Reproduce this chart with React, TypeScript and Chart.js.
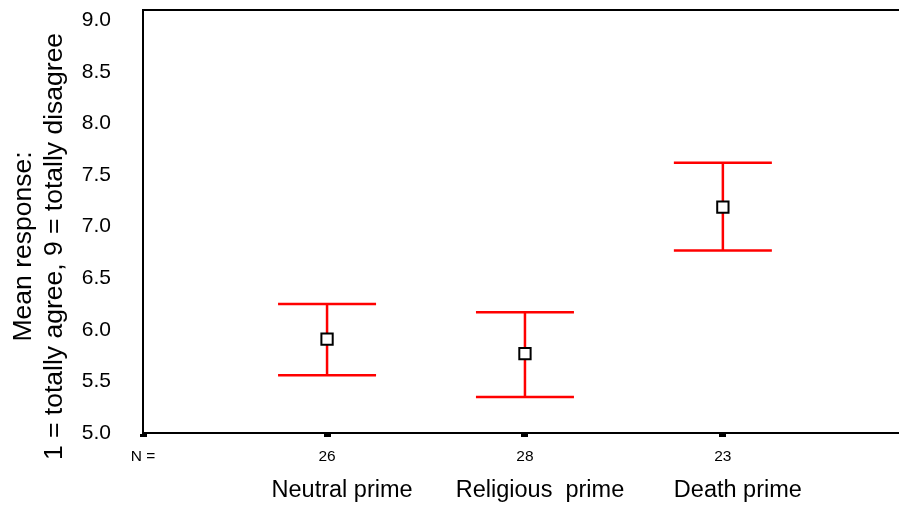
import React, { useEffect, useRef } from "react";
import { Chart, registerables } from "chart.js";

Chart.register(...registerables);

// ---- data ----
const categories = ["Neutral prime", "Religious  prime", "Death prime"];
const groupN = ["26", "28", "23"];
const meanValues = [5.91, 5.77, 7.19];
const upperValues = [6.25, 6.17, 7.62];
const lowerValues = [5.56, 5.35, 6.77];
const yTickValues = [5.0, 5.5, 6.0, 6.5, 7.0, 7.5, 8.0, 8.5, 9.0];
const nLabel = "N =";
const yTitleLines = ["Mean response:", "1 = totally agree, 9 = totally disagree"];

const FONT = '"Liberation Sans", Arial, Helvetica, sans-serif';
const RED = "#ff0000";

const X_MIN = 0.07;
const X_MAX = 3.89;

const zeroPadding = (scale: any) => {
  scale.paddingTop = 0;
  scale.paddingBottom = 0;
  scale.paddingLeft = 0;
  scale.paddingRight = 0;
};

const yTitlePlugin = {
  id: "yTitleLines",
  afterDraw(chart: any) {
    const ctx = chart.ctx;
    const { top, bottom } = chart.chartArea;
    const cy = (top + bottom) / 2 + 25;
    const baselines = [31, 62];
    ctx.save();
    ctx.fillStyle = "#000";
    ctx.font = `26.5px ${FONT}`;
    ctx.textAlign = "center";
    ctx.textBaseline = "alphabetic";
    yTitleLines.forEach((line, i) => {
      ctx.save();
      ctx.translate(baselines[i], cy);
      ctx.rotate(-Math.PI / 2);
      ctx.fillText(line, 0, 0);
      ctx.restore();
    });
    ctx.restore();
  },
};

export default function App() {
  const canvasRef = useRef<HTMLCanvasElement | null>(null);

  useEffect(() => {
    const canvas = canvasRef.current;
    if (!canvas) return;

    const xPos = categories.map((_, i) => i + 1);

    const meanData = xPos.map((x, i) => ({ x, y: meanValues[i] }));
    const whiskerData: any[] = [];
    const capData: any[] = [];
    xPos.forEach((x, i) => {
      whiskerData.push({ x, y: lowerValues[i] });
      whiskerData.push({ x, y: upperValues[i] });
      whiskerData.push({ x, y: null });
      capData.push({ x, y: upperValues[i] });
      capData.push({ x, y: lowerValues[i] });
    });

    const chart = new Chart(canvas, {
      type: "scatter",
      data: {
        datasets: [
          {
            label: "mean",
            data: meanData,
            pointStyle: "rect",
            pointRadius: 8,
            pointHoverRadius: 8,
            backgroundColor: "#ffffff",
            borderColor: "#000000",
            borderWidth: 2,
            order: 0,
          },
          {
            label: "whisker",
            data: whiskerData,
            showLine: true,
            spanGaps: false,
            borderColor: RED,
            borderWidth: 2.5,
            pointRadius: 0,
            pointHoverRadius: 0,
            order: 1,
          },
          {
            label: "caps",
            data: capData,
            pointStyle: "line",
            pointRadius: 49,
            pointHoverRadius: 49,
            borderColor: RED,
            borderWidth: 2.5,
            order: 2,
          },
        ] as any,
      },
      options: {
        animation: false,
        responsive: false,
        events: [],
        layout: { padding: 0, autoPadding: false },
        plugins: {
          legend: { display: false },
          tooltip: { enabled: false },
        },
        scales: {
          x: {
            type: "linear",
            position: "bottom",
            weight: 0,
            min: X_MIN,
            max: X_MAX,
            afterBuildTicks: (scale: any) => {
              scale.ticks = [X_MIN, ...xPos].map((v) => ({ value: v }));
            },
            afterFit: (scale: any) => {
              scale.height = 34;
              zeroPadding(scale);
            },
            ticks: {
              autoSkip: false,
              maxRotation: 0,
              padding: 10,
              color: "#000",
              font: { family: FONT, size: 15.5 },
              callback: (_v: any, i: number) => (i === 0 ? nLabel : groupN[i - 1]),
            },
            grid: {
              display: true,
              drawOnChartArea: false,
              drawTicks: true,
              tickLength: 4,
              tickWidth: 7,
              tickColor: "#000",
            },
            border: { display: true, color: "#000", width: 2 },
          },
          x2: {
            type: "linear",
            position: "bottom",
            weight: 1,
            min: X_MIN,
            max: X_MAX,
            afterBuildTicks: (scale: any) => {
              scale.ticks = xPos.map((v) => ({ value: v }));
            },
            afterFit: (scale: any) => {
              scale.height = 40;
              zeroPadding(scale);
            },
            ticks: {
              autoSkip: false,
              maxRotation: 0,
              padding: 9,
              labelOffset: 15,
              color: "#000",
              font: { family: FONT, size: 23.5 },
              callback: (_v: any, i: number) => categories[i],
            },
            grid: { display: false, drawTicks: false },
            border: { display: false },
          },
          xTop: {
            type: "linear",
            position: "top",
            min: X_MIN,
            max: X_MAX,
            afterFit: (scale: any) => {
              scale.height = 10;
              zeroPadding(scale);
            },
            ticks: { display: false },
            grid: { display: false, drawTicks: false },
            border: { display: true, color: "#000", width: 2 },
          },
          y: {
            type: "linear",
            position: "left",
            min: 5,
            max: 9.1,
            afterBuildTicks: (scale: any) => {
              scale.ticks = yTickValues.map((v) => ({ value: v }));
            },
            afterFit: (scale: any) => {
              scale.width = 143;
              zeroPadding(scale);
            },
            ticks: {
              autoSkip: false,
              padding: 32,
              color: "#000",
              font: { family: FONT, size: 21 },
              callback: (v: any) => Number(v).toFixed(1),
            },
            grid: { display: true, drawOnChartArea: false, drawTicks: false },
            border: { display: true, color: "#000", width: 2 },
          },
        } as any,
      },
      plugins: [yTitlePlugin],
    });

    return () => {
      chart.destroy();
    };
  }, []);

  return (
    <div style={{ position: "absolute", left: 0, top: 0, width: 899, height: 507, background: "#fff" }}>
      <canvas ref={canvasRef} width={899} height={507} style={{ display: "block" }} />
    </div>
  );
}
